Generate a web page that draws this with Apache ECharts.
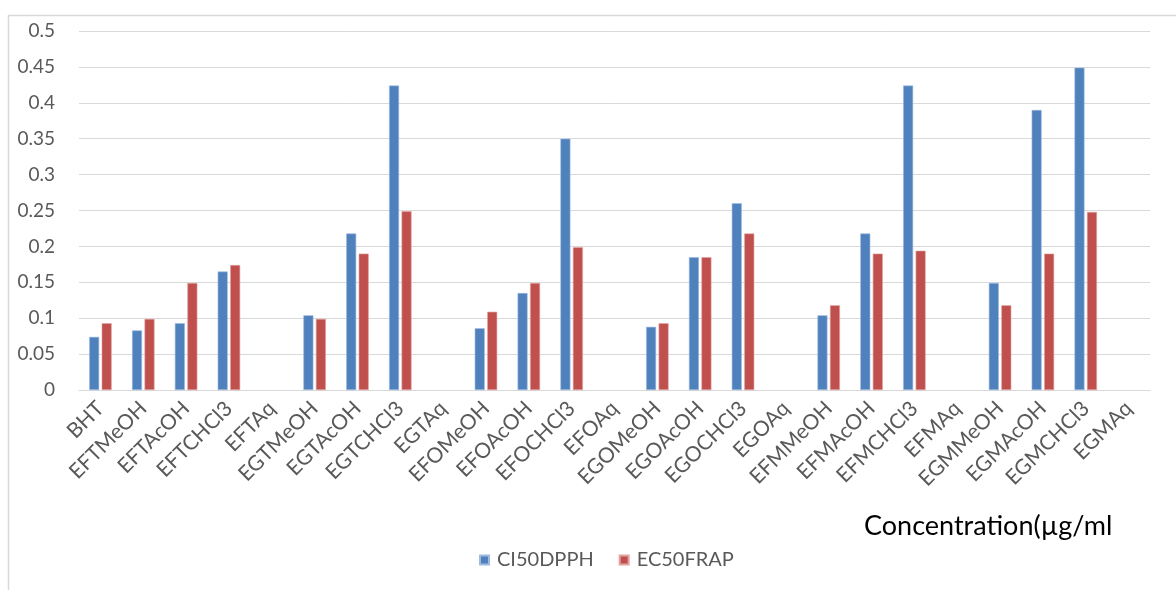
<!DOCTYPE html>
<html>
<head>
<meta charset="utf-8">
<script src="https://cdn.jsdelivr.net/npm/echarts@6/dist/echarts.min.js"></script>
<style>
  html, body { margin: 0; padding: 0; background: #ffffff; }
  #chart { width: 1176px; height: 590px; }
</style>
</head>
<body>
<div id="chart"></div>
<script>
// Extracts and solvents
const categories = [
  'BHT', 'EFTMeOH', 'EFTAcOH', 'EFTCHCl3', 'EFTAq',
  'EGTMeOH', 'EGTAcOH', 'EGTCHCl3', 'EGTAq',
  'EFOMeOH', 'EFOAcOH', 'EFOCHCl3', 'EFOAq',
  'EGOMeOH', 'EGOAcOH', 'EGOCHCl3', 'EGOAq',
  'EFMMeOH', 'EFMAcOH', 'EFMCHCl3', 'EFMAq',
  'EGMMeOH', 'EGMAcOH', 'EGMCHCl3', 'EGMAq'
];

// CI50 by DPPH
const ci50dpph = [
  0.074, 0.083, 0.093, 0.165, null,
  0.104, 0.218, 0.424, null,
  0.086, 0.135, 0.350, null,
  0.088, 0.185, 0.260, null,
  0.104, 0.218, 0.424, null,
  0.149, 0.390, 0.449, null
];

// EC50 by FRAP
const ec50frap = [
  0.093, 0.099, 0.149, 0.174, null,
  0.099, 0.190, 0.249, null,
  0.109, 0.149, 0.199, null,
  0.093, 0.185, 0.218, null,
  0.118, 0.190, 0.194, null,
  0.118, 0.190, 0.248, null
];

const yTicks = { min: 0, max: 0.5, step: 0.05 };

const FONT = 'Lato, "Open Sans", sans-serif';
const GREY = '#595959';

const chart = echarts.init(document.getElementById('chart'), null, { renderer: 'canvas' });

chart.setOption({
  animation: false,
  backgroundColor: '#ffffff',
  grid: { left: 79, right: 26, top: 31, bottom: 200, containLabel: false },
  legend: {
    data: ['CI50DPPH', 'EC50FRAP'],
    left: 474,
    top: 545,
    itemWidth: 9,
    itemHeight: 9,
    itemGap: 25,
    icon: 'rect',
    textStyle: { fontFamily: FONT, fontSize: 20, color: GREY, padding: [0, 0, 0, 3] }
  },
  xAxis: {
    type: 'category',
    data: categories,
    axisLine: { lineStyle: { color: '#d9d9d9', width: 1 } },
    axisTick: { show: false },
    axisLabel: {
      rotate: 45,
      interval: 0,
      margin: 15,
      fontFamily: FONT,
      fontSize: 21,
      color: GREY
    }
  },
  yAxis: {
    type: 'value',
    min: yTicks.min,
    max: yTicks.max,
    interval: yTicks.step,
    axisLine: { show: false },
    axisTick: { show: false },
    splitLine: { lineStyle: { color: '#d9d9d9', width: 1 } },
    axisLabel: {
      margin: 24,
      fontFamily: FONT,
      fontSize: 19,
      color: GREY,
      formatter: v => String(Math.round(v * 100) / 100)
    }
  },
  series: [
    {
      name: 'CI50DPPH',
      type: 'bar',
      data: ci50dpph,
      barWidth: 10,
      barGap: '25%',
      itemStyle: { color: '#4f81bd', borderColor: '#9dbbe0', borderWidth: 0.6 }
    },
    {
      name: 'EC50FRAP',
      type: 'bar',
      data: ec50frap,
      barWidth: 10,
      itemStyle: { color: '#c0504d', borderColor: '#e3a3a1', borderWidth: 0.6 }
    }
  ],
  graphic: [
    {
      type: 'rect',
      shape: { x: 8.5, y: 15.5, width: 1180, height: 600 },
      style: { fill: 'none', stroke: '#d9d9d9', lineWidth: 1.5 },
      silent: true,
      z: -1
    },
    {
      type: 'text',
      left: 864,
      top: 513,
      style: {
        text: 'Concentration(µg/ml',
        fontFamily: FONT,
        fontSize: 27,
        fill: '#000000'
      }
    }
  ]
});
</script>
</body>
</html>
